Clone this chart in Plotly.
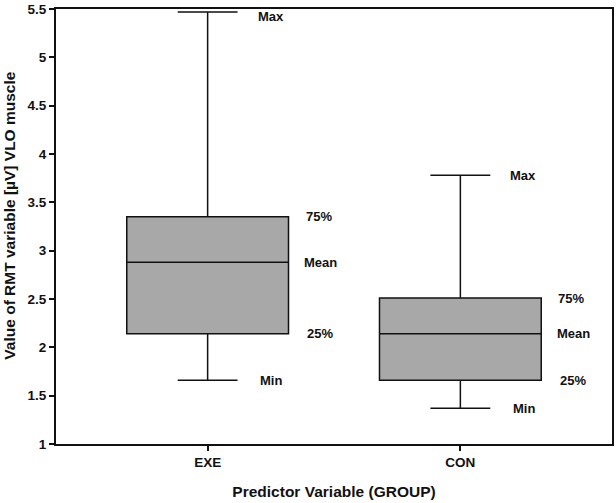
import plotly.graph_objects as go

categories = ["EXE", "CON"]
max_vals = [5.47, 3.78]
q3_vals = [3.35, 2.51]
mean_vals = [2.88, 2.14]
q1_vals = [2.14, 1.66]
min_vals = [1.66, 1.37]
stat_labels = ["Max", "75%", "Mean", "25%", "Min"]
y_ticks = [1, 1.5, 2, 2.5, 3, 3.5, 4, 4.5, 5, 5.5]

FONT = "Liberation Sans, Arial, sans-serif"
Y_MAX = 5.5

fig = go.Figure()
fig.add_trace(go.Box(
    x=[0, 1],
    q1=q1_vals, median=mean_vals, q3=q3_vals,
    lowerfence=min_vals, upperfence=max_vals,
    fillcolor="#a8a8a8",
    line=dict(color="#111111", width=1.5),
    width=0.64,
    whiskerwidth=0.37,
    boxpoints=False,
    showlegend=False,
    hoverinfo="skip",
))

offsets = {"Max": 0.19, "75%": 0.38, "Mean": 0.375, "25%": 0.385, "Min": 0.2}
for i in range(len(categories)):
    vals = [max_vals[i], q3_vals[i], mean_vals[i], q1_vals[i], min_vals[i]]
    for lab, v in zip(stat_labels, vals):
        fig.add_annotation(
            x=i + offsets[lab], y=v, text="<b>%s</b>" % lab,
            showarrow=False, xanchor="left", yanchor="middle",
            yshift=-5 if Y_MAX - v < 0.1 else 0,
            font=dict(family=FONT, size=13, color="#111111"),
        )

fig.add_annotation(
    xref="paper", yref="paper", x=0, y=0.525, xanchor="center", yanchor="middle",
    xshift=-46, textangle=-90, showarrow=False,
    text="<b>Value of RMT variable [µV] VLO muscle</b>",
    font=dict(family=FONT, size=15.5, color="#111111"),
)

fig.update_layout(
    width=616, height=503,
    margin=dict(l=56, r=2, t=6, b=59),
    plot_bgcolor="white", paper_bgcolor="white",
    font=dict(family=FONT, color="#111111"),
)
fig.update_xaxes(
    range=[-0.6, 1.6],
    tickmode="array", tickvals=[0, 1], ticktext=["<b>%s</b>" % c for c in categories],
    ticks="outside", ticklen=5, tickwidth=1.5, tickcolor="#111111",
    showline=True, linecolor="#111111", linewidth=2, mirror=True,
    showgrid=False, zeroline=False,
    tickfont=dict(family=FONT, size=13.5),
    title=dict(text="<b>Predictor Variable (GROUP)</b>", font=dict(family=FONT, size=15.5), standoff=17),
)
fig.update_yaxes(
    range=[1, Y_MAX],
    tickmode="array", tickvals=y_ticks,
    ticktext=["<b>%g</b>" % v for v in y_ticks],
    ticks="outside", ticklen=5, tickwidth=1.5, tickcolor="#111111",
    ticklabeloverflow="allow",
    showline=True, linecolor="#111111", linewidth=2, mirror=True,
    showgrid=False, zeroline=False,
    tickfont=dict(family=FONT, size=13.5),
)

fig.write_html("out.html", config={"displayModeBar": False},
               post_script="document.body.style.margin='0';")
